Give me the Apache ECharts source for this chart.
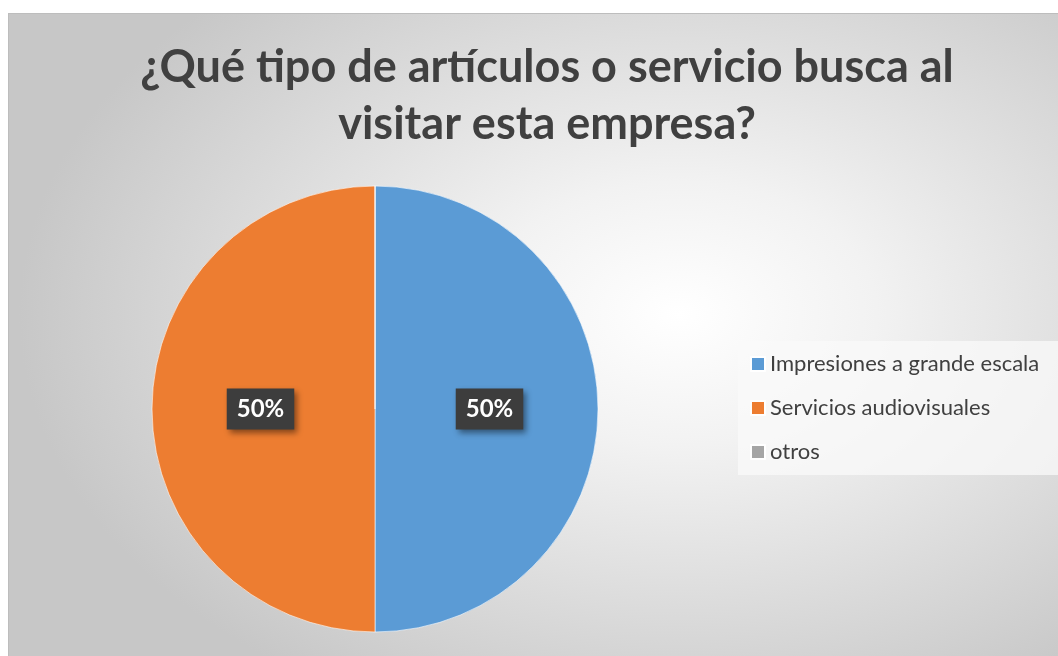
<!DOCTYPE html>
<html>
<head>
<meta charset="utf-8">
<script src="https://cdn.jsdelivr.net/npm/echarts@6/dist/echarts.min.js"></script>
<style>
  html, body { margin: 0; padding: 0; background: #ffffff; }
  #chart {
    position: absolute;
    left: 8px;
    top: 13px;
    width: 1050px;
    height: 643px;
    border-top: 1px solid #bdbdbd;
    border-left: 1px solid #bdbdbd;
    box-sizing: border-box;
    background: radial-gradient(ellipse 660px 440px at 670px 300px, #ffffff 0%, #f2f2f2 30%, #c7c7c7 100%);
  }
</style>
</head>
<body>
<div id="chart"></div>
<script>
const titulo = "¿Qué tipo de artículos o servicio busca al\nvisitar esta empresa?";
const categorias = ["Impresiones a grande escala", "Servicios audiovisuales", "otros"];
const valores = [50, 50, 0];
const colores = ["#5b9bd5", "#ed7d31", "#a5a5a5"];

// datos del pie, sin etiqueta para los valores en cero
const datos = categorias.map((nombre, i) => ({
  name: nombre,
  value: valores[i],
  label: { show: valores[i] > 0 },
}));

let options = {
  backgroundColor: "transparent",
  color: colores,
  title: {
    text: titulo,
    left: 533,
    top: 20,
    textAlign: "center",
    textStyle: {
      fontFamily: "Lato",
      fontWeight: "bold",
      fontSize: 45,
      lineHeight: 57,
      color: "#404040",
    },
  },
  legend: {
    orient: "vertical",
    left: 729,
    top: 327,
    width: 320,
    padding: [12, 300, 12, 12],
    backgroundColor: "rgba(250,250,250,0.75)",
    icon: "rect",
    itemWidth: 14,
    itemHeight: 14,
    itemGap: 22,
    textStyle: {
      fontFamily: "Lato",
      fontSize: 22,
      lineHeight: 20,
      color: "#404040",
    },
  },
  series: [
    {
      type: "pie",
      center: [366, 395],
      radius: [0, 223],
      startAngle: 90,
      clockwise: true,
      data: datos,
      itemStyle: { borderColor: "#ffffff", borderWidth: 0.6 },
      labelLine: { show: false },
      emphasis: { disabled: true },
      label: {
        position: "inside",
        formatter: "{d}%",
        fontFamily: "Lato",
        fontWeight: "bold",
        fontSize: 24,
        color: "#ffffff",
        backgroundColor: "#3d3d3d",
        padding: [9, 10, 8, 10],
        shadowColor: "rgba(0,0,0,0.45)",
        shadowBlur: 6,
        shadowOffsetX: 3,
        shadowOffsetY: 3,
      },
    },
  ],
};

var chart = echarts.init(document.getElementById("chart"));
chart.setOption(options);
window.addEventListener("resize", function () {
  chart.resize();
});
</script>
</body>
</html>
